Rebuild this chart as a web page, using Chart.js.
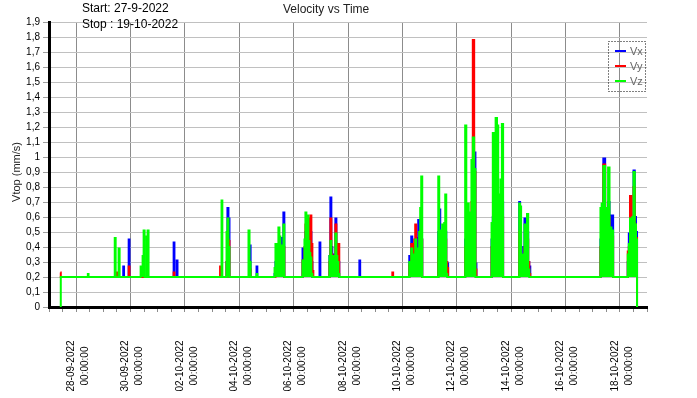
<!DOCTYPE html>
<html>
<head>
<meta charset="utf-8">
<title>Velocity vs Time</title>
<script src="https://cdn.jsdelivr.net/npm/chart.js@4.4.0/dist/chart.umd.min.js"></script>
<style>
  html, body { margin: 0; padding: 0; background: #fff; }
  #wrap { width: 697px; height: 398px; }
</style>
</head>
<body>
<div id="wrap"><canvas id="chart" width="697" height="398"></canvas></div>
<script>
// sample times, hours since 27-09-2022 00:00
const hours = [
  10.0, 10.8, 34.0, 34.6, 35.2, 57.7, 58.4, 59.3, 60.1, 61.0, 61.9, 62.8,
  65.2, 65.9, 66.6, 70.0, 70.7, 71.4, 80.5, 81.3, 82.2, 83.1, 84.0, 84.8,
  85.8, 86.6, 87.5, 88.3, 109.7, 110.4, 111.1, 112.4, 113.1, 113.8,
  150.7, 151.4, 152.0, 152.7, 153.4, 156.4, 157.1, 158.0, 158.9, 159.8,
  175.8, 176.5, 177.6, 178.4, 182.9, 183.6, 184.3,
  198.8, 199.5, 200.4, 201.2, 202.1, 203.0, 203.9, 204.7, 205.6, 206.5, 207.4, 208.2,
  223.5, 224.2, 225.1, 226.0, 226.8, 227.7, 228.6, 229.5, 230.3, 231.2, 232.1, 233.0, 233.8,
  238.5, 239.2, 240.0,
  247.2, 248.0, 248.9, 249.7, 250.6, 251.5, 252.4, 253.3, 254.2, 255.0, 255.9, 256.7,
  273.7, 274.4, 275.1, 302.8, 303.5, 304.2,
  317.7, 318.5, 319.4, 320.3, 321.2, 322.0, 322.9, 323.8, 324.7, 325.6, 326.4, 327.3, 328.2, 329.1, 330.0,
  343.3, 344.1, 345.0, 345.9, 346.7, 347.6, 348.5, 349.4, 350.3, 351.2, 352.0, 352.8,
  367.0, 367.9, 369.0, 370.0, 371.2, 372.4, 373.6, 374.8, 376.0, 377.0, 377.8,
  390.3, 391.2, 392.5, 393.7, 395.0, 396.1, 397.2, 398.2, 399.2, 400.5, 401.4,
  414.8, 415.5, 416.4, 417.3, 418.2, 419.3, 420.3, 421.5, 422.6, 423.6, 424.5, 425.4,
  486.5, 487.3, 488.6, 490.3, 491.8, 493.1, 494.2, 495.6, 497.6, 498.6,
  510.5, 511.5, 512.4, 513.6, 514.6, 515.6, 516.6, 517.8, 518.8, 519.6
];
const vx = [
  0.20, 0.20, 0.20, 0.20, 0.20, 0.20, 0.20, 0.20, 0.20, 0.20, 0.20, 0.20,
  0.20, 0.27, 0.20, 0.20, 0.45, 0.20, 0.20, 0.20, 0.20, 0.20, 0.20, 0.20,
  0.20, 0.20, 0.20, 0.20, 0.20, 0.43, 0.20, 0.20, 0.31, 0.20,
  0.20, 0.20, 0.20, 0.20, 0.20, 0.20, 0.30, 0.66, 0.59, 0.20,
  0.20, 0.20, 0.41, 0.20, 0.20, 0.27, 0.20,
  0.20, 0.22, 0.30, 0.37, 0.30, 0.35, 0.38, 0.40, 0.46, 0.35, 0.63, 0.20,
  0.20, 0.39, 0.30, 0.35, 0.50, 0.45, 0.50, 0.45, 0.40, 0.50, 0.30, 0.20, 0.20,
  0.20, 0.43, 0.20,
  0.20, 0.34, 0.73, 0.40, 0.35, 0.30, 0.30, 0.59, 0.42, 0.30, 0.30, 0.20,
  0.20, 0.31, 0.20, 0.20, 0.20, 0.20,
  0.20, 0.34, 0.30, 0.47, 0.33, 0.30, 0.35, 0.40, 0.35, 0.46, 0.58, 0.35, 0.40, 0.45, 0.20,
  0.20, 0.50, 0.65, 0.40, 0.45, 0.45, 0.49, 0.40, 0.50, 0.30, 0.29, 0.20,
  0.20, 0.45, 0.40, 0.45, 0.40, 0.35, 0.60, 0.90, 1.03, 0.29, 0.20,
  0.20, 0.45, 0.60, 0.90, 0.70, 0.65, 0.55, 0.55, 0.60, 0.70, 0.20,
  0.20, 0.70, 0.50, 0.30, 0.35, 0.40, 0.59, 0.45, 0.50, 0.30, 0.27, 0.20,
  0.20, 0.45, 0.50, 0.99, 0.55, 0.50, 0.70, 0.50, 0.61, 0.20,
  0.20, 0.30, 0.49, 0.55, 0.50, 0.55, 0.91, 0.60, 0.50, 0.00
];
const vy = [
  0.23, 0.20, 0.20, 0.20, 0.20, 0.20, 0.20, 0.20, 0.23, 0.20, 0.20, 0.20,
  0.20, 0.20, 0.20, 0.20, 0.27, 0.20, 0.20, 0.20, 0.20, 0.20, 0.20, 0.20,
  0.20, 0.20, 0.20, 0.20, 0.20, 0.23, 0.20, 0.20, 0.20, 0.20,
  0.20, 0.27, 0.20, 0.20, 0.20, 0.20, 0.30, 0.45, 0.44, 0.20,
  0.20, 0.20, 0.25, 0.20, 0.20, 0.20, 0.20,
  0.20, 0.20, 0.25, 0.30, 0.30, 0.32, 0.35, 0.33, 0.38, 0.30, 0.40, 0.20,
  0.20, 0.31, 0.28, 0.40, 0.55, 0.50, 0.59, 0.55, 0.48, 0.61, 0.42, 0.24, 0.20,
  0.20, 0.20, 0.20,
  0.20, 0.30, 0.59, 0.35, 0.30, 0.30, 0.30, 0.55, 0.38, 0.30, 0.42, 0.20,
  0.20, 0.20, 0.20, 0.20, 0.23, 0.20,
  0.20, 0.28, 0.28, 0.42, 0.30, 0.30, 0.45, 0.55, 0.30, 0.38, 0.38, 0.30, 0.40, 0.45, 0.20,
  0.20, 0.40, 0.40, 0.35, 0.40, 0.40, 0.40, 0.40, 0.45, 0.30, 0.26, 0.20,
  0.20, 0.40, 0.35, 0.40, 0.40, 0.35, 0.70, 1.78, 0.90, 0.25, 0.20,
  0.20, 0.40, 0.50, 0.60, 0.60, 0.60, 0.50, 0.50, 0.55, 0.60, 0.20,
  0.20, 0.50, 0.39, 0.30, 0.30, 0.30, 0.40, 0.40, 0.45, 0.30, 0.22, 0.20,
  0.20, 0.40, 0.45, 0.95, 0.50, 0.45, 0.60, 0.45, 0.47, 0.20,
  0.20, 0.37, 0.40, 0.74, 0.57, 0.55, 0.80, 0.55, 0.46, 0.00
];
const vz = [
  0.00, 0.20, 0.20, 0.22, 0.20, 0.20, 0.46, 0.20, 0.20, 0.20, 0.39, 0.20,
  0.20, 0.20, 0.20, 0.20, 0.20, 0.20, 0.20, 0.27, 0.25, 0.34, 0.51, 0.20,
  0.20, 0.47, 0.51, 0.20, 0.20, 0.20, 0.20, 0.20, 0.20, 0.20,
  0.20, 0.20, 0.20, 0.71, 0.20, 0.20, 0.50, 0.59, 0.40, 0.20,
  0.20, 0.51, 0.30, 0.20, 0.20, 0.22, 0.20,
  0.20, 0.26, 0.42, 0.30, 0.40, 0.53, 0.47, 0.38, 0.41, 0.33, 0.55, 0.20,
  0.20, 0.31, 0.30, 0.45, 0.63, 0.40, 0.61, 0.44, 0.36, 0.33, 0.22, 0.20, 0.20,
  0.20, 0.20, 0.20,
  0.20, 0.34, 0.44, 0.34, 0.34, 0.31, 0.31, 0.49, 0.34, 0.30, 0.22, 0.20,
  0.20, 0.20, 0.20, 0.20, 0.20, 0.20,
  0.20, 0.30, 0.28, 0.39, 0.31, 0.33, 0.35, 0.45, 0.30, 0.39, 0.33, 0.50, 0.66, 0.87, 0.20,
  0.20, 0.87, 0.51, 0.40, 0.51, 0.55, 0.42, 0.56, 0.75, 0.22, 0.20, 0.20,
  0.20, 1.21, 0.58, 0.69, 0.63, 0.48, 0.98, 1.13, 0.92, 0.20, 0.20,
  0.20, 0.56, 1.16, 0.85, 1.26, 1.21, 0.75, 0.71, 0.85, 1.22, 0.20,
  0.20, 0.69, 0.67, 0.31, 0.35, 0.34, 0.55, 0.36, 0.62, 0.25, 0.20, 0.20,
  0.20, 0.66, 0.69, 0.94, 0.66, 0.60, 0.93, 0.53, 0.51, 0.20,
  0.20, 0.35, 0.42, 0.59, 0.55, 0.60, 0.90, 0.55, 0.45, 0.00
];

// x tick labels (every 2 days at midnight)
const labelHours = [24, 72, 120, 168, 216, 264, 312, 360, 408, 456, 504];
const dateLabels = ['28-09-2022', '30-09-2022', '02-10-2022', '04-10-2022', '06-10-2022', '08-10-2022',
  '10-10-2022', '12-10-2022', '14-10-2022', '16-10-2022', '18-10-2022'];
const timeLabel = '00:00:00';

const seriesNames = ['Vx', 'Vy', 'Vz'];
const seriesColors = ['#0000ff', '#ff0000', '#00ff00'];

function series(i, values) {
  return {
    label: seriesNames[i],
    data: hours.map((h, k) => ({ x: h, y: values[k] })),
    borderColor: seriesColors[i],
    backgroundColor: seriesColors[i],
    borderWidth: 2,
    pointRadius: 0,
    stepped: 'middle',
    fill: { value: 0.2 },
    order: 3 - i // green drawn last
  };
}

function yLabel(v) {
  return String(Math.round(v * 10) / 10).replace('.', ',');
}

// titles, rotated date labels and the dotted legend box
const textPlugin = {
  id: 'texts',
  afterDraw(chart) {
    const ctx = chart.ctx;
    const xs = chart.scales.x;
    ctx.save();
    ctx.fillStyle = '#000';
    ctx.font = '12px "Liberation Sans"';
    ctx.textBaseline = 'alphabetic';
    ctx.fillText('Start: 27-9-2022', 82, 12);
    ctx.fillText('Stop : 19-10-2022', 82, 28);
    ctx.fillStyle = '#222';
    ctx.fillText('Velocity vs Time', 283, 13);

    ctx.save();
    ctx.translate(17, 172);
    ctx.rotate(-Math.PI / 2);
    ctx.textAlign = 'center';
    ctx.textBaseline = 'middle';
    ctx.font = '11px "Liberation Sans"';
    ctx.fillText('Vtop (mm/s)', 0, 0);
    ctx.restore();

    ctx.fillStyle = '#000';
    ctx.font = '10px "Liberation Sans"';
    labelHours.forEach((h, i) => {
      const px = xs.getPixelForValue(h);
      ctx.save();
      ctx.translate(px, 366);
      ctx.rotate(-Math.PI / 2);
      ctx.textAlign = 'center';
      ctx.textBaseline = 'middle';
      ctx.fillText(dateLabels[i], 0, -5);
      ctx.fillText(timeLabel, 0, 9);
      ctx.restore();
    });

    // legend
    ctx.setLineDash([1, 2]);
    ctx.strokeStyle = '#000';
    ctx.lineWidth = 1;
    ctx.strokeRect(608.5, 41.5, 37, 50);
    ctx.setLineDash([]);
    ctx.font = '11px "Liberation Sans"';
    ctx.textBaseline = 'middle';
    seriesNames.forEach((n, i) => {
      const y = 51 + i * 15;
      ctx.strokeStyle = seriesColors[i];
      ctx.lineWidth = 2;
      ctx.beginPath();
      ctx.moveTo(615, y);
      ctx.lineTo(626, y);
      ctx.stroke();
      ctx.fillStyle = '#666';
      ctx.fillText(n, 630, y + 1);
    });
    ctx.restore();
  }
};

const ctx = document.getElementById('chart').getContext('2d');
new Chart(ctx, {
  type: 'line',
  data: { datasets: [series(0, vx), series(1, vy), series(2, vz)] },
  options: {
    responsive: false,
    animation: false,
    devicePixelRatio: 1,
    layout: { padding: { top: 22, right: 50, left: 0, bottom: 0 } },
    plugins: { legend: { display: false }, title: { display: false }, tooltip: { enabled: false } },
    scales: {
      x: {
        type: 'linear', min: 0, max: 528,
        afterFit: s => { s.height = 91; },
        ticks: { stepSize: 12, display: false },
        grid: {
          color: c => (c.tick && c.tick.value % 48 === 24) ? '#8c8c8c' : 'rgba(0,0,0,0)',
          tickColor: '#8c8c8c', tickLength: 5, lineWidth: 1
        },
        border: { color: '#000', width: 3 }
      },
      y: {
        min: 0, max: 1.9,
        afterFit: s => { s.width = 49; },
        ticks: { stepSize: 0.1, padding: 3, color: '#000', font: { family: 'Liberation Sans', size: 10 }, callback: yLabel },
        grid: { color: '#c0c0c0', tickColor: '#a0a0a0', tickLength: 6, lineWidth: 1 },
        border: { color: '#000', width: 3 }
      }
    }
  },
  plugins: [textPlugin]
});
</script>
</body>
</html>
